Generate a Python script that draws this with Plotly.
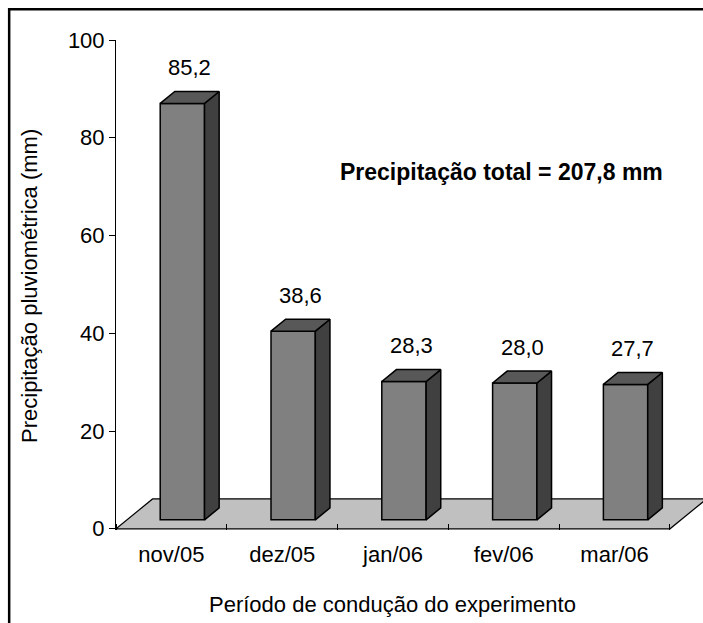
import plotly.graph_objects as go

# ---- data ----
months = ["nov/05", "dez/05", "jan/06", "fev/06", "mar/06"]
rain_mm = [85.2, 38.6, 28.3, 28.0, 27.7]
y_ticks = [0, 20, 40, 60, 80, 100]

# ---- pseudo-3D geometry (x in category units, y in mm) ----
FLOOR_DX, FLOOR_DY = 0.33, 6.1   # depth of the floor plane
BAR_W = 0.40                     # width of a bar front face
BAR_FRONT = 0.30                 # depth fraction where bar fronts sit
BAR_DEPTH = 0.40                 # depth fraction occupied by each bar

FONT = "Liberation Sans, Arial, Helvetica, sans-serif"
FS = 22

n = len(months)
xs = list(range(n))
bx = [i + BAR_FRONT * FLOOR_DX for i in xs]
base = BAR_FRONT * FLOOR_DY
bdx = BAR_DEPTH * FLOOR_DX
bdy = BAR_DEPTH * FLOOR_DY

fig = go.Figure()

# front faces of the bars
fig.add_trace(go.Bar(
    x=bx, y=rain_mm, base=base, width=BAR_W,
    marker=dict(color="#808080", line=dict(color="black", width=1.5)),
    hoverinfo="skip",
))

# side and top faces built from the same values
side_x, side_y, top_x, top_y = [], [], [], []
for x, v in zip(bx, rain_mm):
    xl, xr = x - BAR_W / 2, x + BAR_W / 2
    top = base + v
    side_x += [xr, xr + bdx, xr + bdx, xr, xr, None]
    side_y += [base, base + bdy, top + bdy, top, base, None]
    top_x += [xl, xr, xr + bdx, xl + bdx, xl, None]
    top_y += [top, top, top + bdy, top + bdy, top, None]

fig.add_trace(go.Scatter(
    x=side_x, y=side_y, mode="lines", fill="toself", fillcolor="#404040",
    line=dict(color="black", width=1.5), hoverinfo="skip",
))
fig.add_trace(go.Scatter(
    x=top_x, y=top_y, mode="lines", fill="toself", fillcolor="#585858",
    line=dict(color="black", width=1.5), hoverinfo="skip",
))

# floor plane under the bars
x_lo, x_hi = -0.5, n - 0.5
floor_path = (f"M {x_lo},0 L {x_hi},0 L {x_hi + FLOOR_DX},{FLOOR_DY} "
              f"L {x_lo + FLOOR_DX},{FLOOR_DY} Z")
shapes = [
    dict(type="path", path=floor_path, xref="x", yref="y", layer="below",
         fillcolor="#c0c0c0", line=dict(color="black", width=1.2)),
    # chart frame
    dict(type="rect", xref="paper", yref="paper", x0=-0.182, x1=1.2,
         y0=-0.4, y1=1.063, line=dict(color="black", width=2.5),
         fillcolor="rgba(0,0,0,0)", layer="above"),
]

annotations = []
for x, v in zip(bx, rain_mm):
    annotations.append(dict(
        x=x + bdx / 2, y=base + v + bdy, yshift=24, xref="x", yref="y",
        text=f"{v:.1f}".replace(".", ","), showarrow=False,
        xanchor="center", yanchor="middle",
        font=dict(family=FONT, size=FS, color="black"),
    ))

total = sum(rain_mm)
annotations.append(dict(
    x=2.98, y=73, xref="x", yref="y", showarrow=False,
    text=f"<b>Precipitação total = {total:.1f} mm</b>".replace(".", ","),
    xanchor="center", yanchor="middle",
    font=dict(family=FONT, size=23, color="black"),
))
annotations.append(dict(
    x=(n - 1) / 2, y=-0.1526, xref="x", yref="paper", showarrow=False,
    text="Período de condução do experimento",
    xanchor="center", yanchor="middle",
    font=dict(family=FONT, size=FS, color="black"),
))
annotations.append(dict(
    x=-0.1465, y=0.498, xref="paper", yref="paper", showarrow=False,
    text="Precipitação pluviométrica (mm)", textangle=-90,
    xanchor="center", yanchor="middle",
    font=dict(family=FONT, size=FS, color="black"),
))

fig.update_layout(
    width=703, height=623,
    margin=dict(l=116, r=0, t=40, b=92.8),
    paper_bgcolor="white", plot_bgcolor="white",
    showlegend=False,
    shapes=shapes, annotations=annotations,
    font=dict(family=FONT, size=FS, color="black"),
    xaxis=dict(
        range=[x_lo, 4.798], tickmode="array", tickvals=xs, ticktext=months,
        ticks="outside", ticklen=5, tickcolor="rgba(0,0,0,0)",
        showline=False, showgrid=False, zeroline=False,
        tickfont=dict(family=FONT, size=FS, color="black"),
        minor=dict(tickmode="array",
                   tickvals=[x_lo + k for k in range(n + 1)],
                   ticks="inside", ticklen=6, tickwidth=1, tickcolor="black",
                   showgrid=False),
    ),
    yaxis=dict(
        range=[-0.25, 100], tickmode="array", tickvals=y_ticks,
        ticks="outside", ticklen=6, tickwidth=1, tickcolor="black",
        showline=True, linecolor="black", linewidth=1,
        showgrid=False, zeroline=False,
        tickfont=dict(family=FONT, size=FS, color="black"),
    ),
)

fig.write_html("out.html")
